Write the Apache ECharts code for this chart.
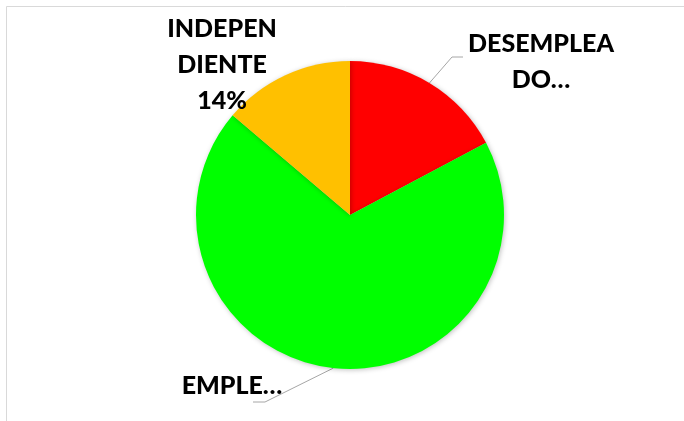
<!DOCTYPE html>
<html>
<head>
<meta charset="utf-8">
<script src="https://cdn.jsdelivr.net/npm/echarts@6/dist/echarts.min.js"></script>
<style>
html, body { margin: 0; padding: 0; background: #fff; }
#main { width: 684px; height: 421px; }
</style>
</head>
<body>
<div id="main"></div>
<script>
// datos (sentido horario desde arriba)
var categories = ['DESEMPLEADO', 'EMPLEADO', 'INDEPENDIENTE'];
var values = [5, 20, 4];
var labelTexts = ['DESEMPLEA\nDO\u2026', 'EMPLE\u2026', 'INDEPEN\nDIENTE'];
var showPercent = [false, false, true];
var colors = ['#ff0000', '#00ff00', '#ffc000'];

var myChart = echarts.init(document.getElementById('main'));

var seriesData = categories.map(function (c, i) {
    var item = {
        name: c,
        value: values[i],
        itemStyle: { color: colors[i] }
    };
    if (i === 2) {
        item.labelLine = { show: false };
    }
    return item;
});

var option = {
    backgroundColor: '#fff',
    animation: false,
    graphic: [{
        type: 'rect',
        shape: { x: 6.5, y: 6.5, width: 700, height: 440 },
        style: { fill: 'none', stroke: '#d9d9d9', lineWidth: 1 },
        silent: true
    }],
    series: [{
        type: 'pie',
        center: [350, 215],
        radius: [0, 154],
        startAngle: 90,
        clockwise: true,
        data: seriesData,
        itemStyle: {
            shadowBlur: 5,
            shadowColor: 'rgba(0,0,0,0.25)',
            shadowOffsetX: 1,
            shadowOffsetY: 1
        },
        label: {
            show: true,
            position: 'outside',
            color: '#000',
            fontFamily: 'Lato',
            fontWeight: 900,
            fontSize: 25,
            lineHeight: 36,
            align: 'center',
            formatter: function (p) {
                var t = labelTexts[p.dataIndex];
                if (showPercent[p.dataIndex]) {
                    t += '\n' + Math.round(p.percent) + '%';
                }
                return t;
            }
        },
        labelLine: {
            show: true,
            length: 20,
            length2: 10,
            lineStyle: { color: '#a6a6a6', width: 1 }
        },
        labelLayout: function (params) {
            var p0 = params.labelLinePoints ? params.labelLinePoints[0] : null;
            if (params.dataIndex === 0) {
                return {
                    x: 541, y: 62, align: 'center', verticalAlign: 'middle',
                    labelLinePoints: [p0, [452, 57], [463, 57]]
                };
            }
            if (params.dataIndex === 1) {
                return {
                    x: 232, y: 386, align: 'center', verticalAlign: 'middle',
                    labelLinePoints: [p0, [265, 402], [253, 402]]
                };
            }
            return { x: 222, y: 65, align: 'center', verticalAlign: 'middle' };
        }
    }]
};

myChart.setOption(option);
</script>
</body>
</html>
